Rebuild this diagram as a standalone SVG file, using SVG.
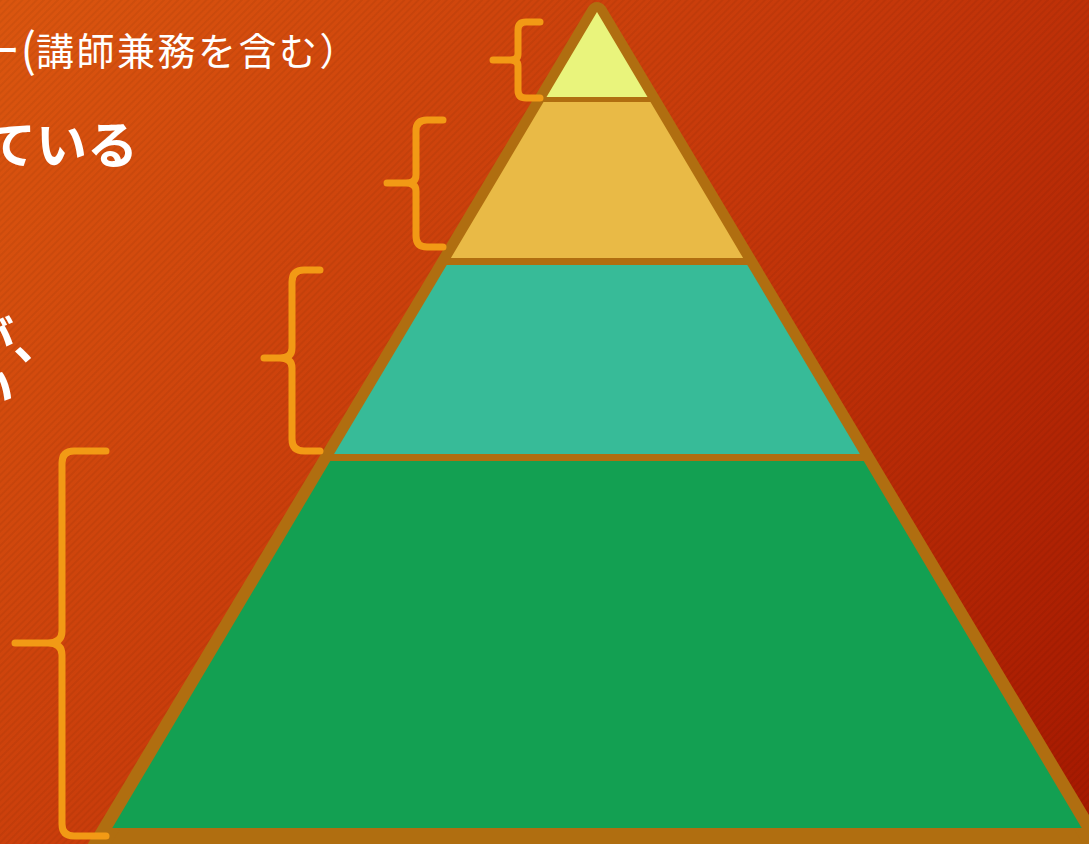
<svg xmlns="http://www.w3.org/2000/svg" width="1089" height="844" viewBox="0 0 1089 844">
  <defs>
    <linearGradient id="bg" x1="0" y1="0" x2="1089" y2="844" gradientUnits="userSpaceOnUse">
      <stop offset="0" stop-color="#DB560F"/>
      <stop offset="0.5" stop-color="#C6380A"/>
      <stop offset="1" stop-color="#A51800"/>
    </linearGradient>
    <pattern id="stripes" width="5" height="5" patternUnits="userSpaceOnUse" patternTransform="rotate(45)">
      <rect width="2" height="5" fill="#000" opacity="0.05"/>
    </pattern>
    <style>
      .brace { fill: none; stroke: #F29A15; stroke-width: 7; stroke-linecap: round; stroke-linejoin: round; }
      .outline { fill: #B06E10; stroke: #B06E10; stroke-width: 20; stroke-linejoin: round; }
      .txt { fill: #FFFFFF; font-family: "Noto Sans CJK JP", "Noto Sans", sans-serif; }
    </style>
  </defs>

  <g id="background">
    <rect width="1089" height="844" fill="url(#bg)"/>
    <rect width="1089" height="844" fill="url(#stripes)"/>
  </g>

  <g id="texts">
    <text class="txt" x="36" y="67" font-size="46" text-anchor="end">ー(</text>
    <text class="txt" x="36" y="65" font-size="38" letter-spacing="2.5">講師兼務を含む）</text>
    <text class="txt" x="138" y="164" font-size="51" font-weight="bold" text-anchor="end">ている</text>
    <text class="txt" x="63" y="359" font-size="50" font-weight="bold" text-anchor="end">が、</text>
    <text class="txt" x="14" y="407" font-size="50" font-weight="bold" text-anchor="end">い</text>
  </g>

  <g id="pyramid">
    <polygon id="pyramid-frame" class="outline" points="597,12 91.6,857 1102.4,857"/>
    <polygon id="layer-top" fill="#E9F47C" points="597,12 546.5,97 647.5,97"/>
    <polygon id="layer-2" fill="#E9BA46" points="543.5,102 650.5,102 743.1,258 450.9,258"/>
    <polygon id="layer-3" fill="#37BB98" points="446.7,265 747.3,265 859.9,454 334.1,454"/>
    <polygon id="layer-bottom" fill="#13A052" points="330.3,461 863.7,461 1081.7,828 112.3,828"/>
  </g>

  <g id="connectors">
    <path id="brace-1" class="brace" d="M540,22 L526,22 Q518,22 518,30 L518,54 Q518,60 510,60 L493,60 L510,60 Q518,60 518,66 L518,90 Q518,98 526,98 L540,98"/>
    <path id="brace-2" class="brace" d="M443,120 L427,120 Q416,120 416,131 L416,175 Q416,183 406,183 L387,183 L406,183 Q416,183 416,191 L416,236 Q416,247 427,247 L443,247"/>
    <path id="brace-3" class="brace" d="M320,270 L304,270 Q292,270 292,282 L292,348 Q292,358 280,358 L264,358 L280,358 Q292,358 292,368 L292,439 Q292,451 304,451 L320,451"/>
    <path id="brace-4" class="brace" d="M106,451 L74,451 Q62,451 62,463 L62,631 Q62,643 48,643 L15,643 L48,643 Q62,643 62,655 L62,824 Q62,836 74,836 L106,836"/>
  </g>
</svg>
